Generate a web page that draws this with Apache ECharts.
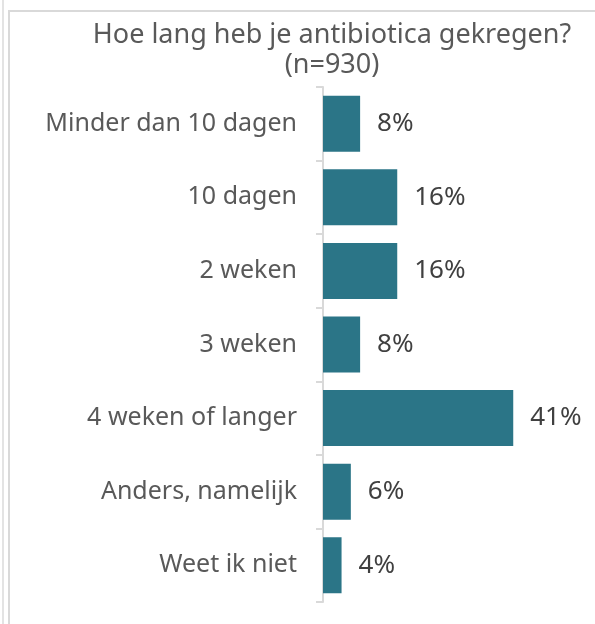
<!DOCTYPE html>
<html>
<head>
<meta charset="utf-8">
<script src="https://cdn.jsdelivr.net/npm/echarts@6/dist/echarts.min.js"></script>
<style>
  html, body { margin: 0; padding: 0; background: #fff; }
  #frame { position: absolute; left: 8px; top: 10px; width: 595px; height: 620px;
    border-left: 2px solid #d9d9d9; border-top: 2px solid #d9d9d9; }
  #edge { position: absolute; left: 2px; top: 0; width: 0; height: 624px; border-left: 2px solid #e3e3e3; }
  #chart { position: absolute; left: 0; top: 0; width: 595px; height: 624px; }
</style>
</head>
<body>
<div id="edge"></div>
<div id="frame"></div>
<div id="chart"></div>
<script>
// antwoorden (van boven naar onder)
const categories = ['Minder dan 10 dagen', '10 dagen', '2 weken', '3 weken', '4 weken of langer', 'Anders, namelijk', 'Weet ik niet']
const percentages = [8, 16, 16, 8, 41, 6, 4]

const chart = echarts.init(document.getElementById('chart'))
chart.setOption({
  animation: false,
  textStyle: { fontFamily: 'Noto Sans' },
  title: {
    text: 'Hoe lang heb je antibiotica gekregen?\n(n=930)',
    left: 327,
    top: 15,
    textAlign: 'center',
    textStyle: {
      fontFamily: 'Noto Sans',
      fontSize: 27,
      fontWeight: 'normal',
      color: '#595959',
      lineHeight: 30
    }
  },
  grid: {
    left: 323,
    right: 40,
    top: 87,
    bottom: 22,
    containLabel: false
  },
  xAxis: {
    type: 'value',
    min: 0,
    max: 50,
    show: false
  },
  yAxis: {
    type: 'category',
    data: categories,
    inverse: true,
    axisLine: { lineStyle: { color: '#d9d9d9', width: 2 } },
    axisTick: { show: true, length: 7, lineStyle: { color: '#d9d9d9', width: 2 } },
    axisLabel: {
      margin: 26,
      fontSize: 25,
      color: '#595959',
      fontFamily: 'Noto Sans',
      padding: [4, 0, 0, 0]
    }
  },
  series: [{
    type: 'bar',
    data: percentages,
    barWidth: 56,
    itemStyle: { color: '#2b7587' },
    label: {
      show: true,
      position: 'right',
      distance: 17,
      formatter: '{c}%',
      fontSize: 26,
      color: '#404040',
      fontFamily: 'Noto Sans',
      padding: [4, 0, 0, 0]
    }
  }]
})
</script>
</body>
</html>
